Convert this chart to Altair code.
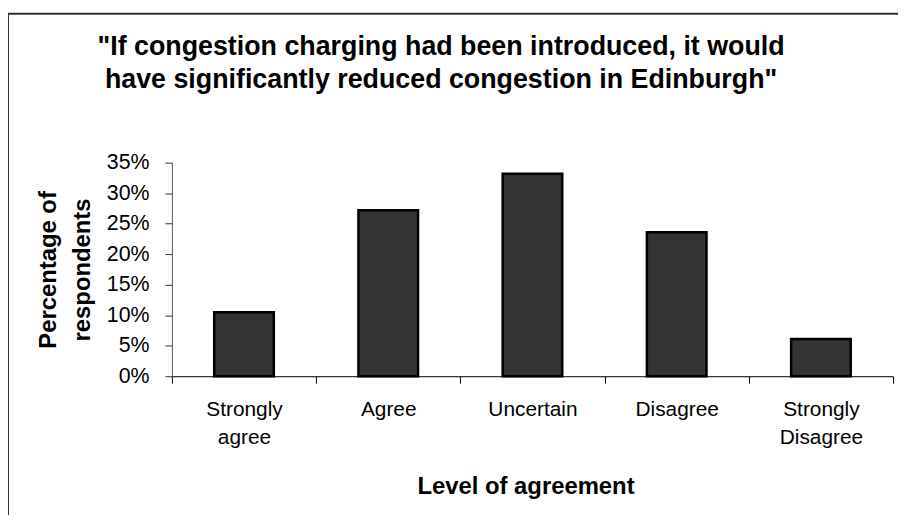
import altair as alt
import pandas as pd

categories = ["Strongly agree", "Agree", "Uncertain", "Disagree", "Strongly Disagree"]
percent = [10.5, 27.2, 33.2, 23.6, 6.1]
y_ticks = [0, 5, 10, 15, 20, 25, 30, 35]

title_lines = ['"If congestion charging had been introduced, it would',
               'have significantly reduced congestion in Edinburgh"']
x_title = "Level of agreement"
y_title = ["Percentage of", "respondents"]

FONT = "Liberation Sans, Arial, Helvetica, sans-serif"

df = pd.DataFrame({"level": categories, "pct": percent})

bars = alt.Chart(df).mark_bar(
    size=60, color="#333333", stroke="#000000", strokeWidth=2.5
).encode(
    x=alt.X(
        "level:N", sort=categories,
        scale=alt.Scale(paddingInner=0, paddingOuter=0),
        axis=alt.Axis(
            title=x_title, tickBand="extent",
            labelExpr="split(datum.label, ' ')",
            labelAngle=0, labelFontSize=21, labelLineHeight=28,
            labelPadding=16, labelColor="#000000",
            titleFontSize=24, titleFontWeight="bold", titleColor="#000000",
            titlePadding=27, titleX=356,
            domainColor="#000000", tickColor="#000000", tickSize=7,
        ),
    ),
    y=alt.Y(
        "pct:Q",
        scale=alt.Scale(domain=[0, 35], nice=False, zero=True),
        axis=alt.Axis(
            values=y_ticks, labelExpr="datum.value + '%'",
            title=y_title, labelFontSize=21.5, labelPadding=16, labelColor="#000000",
            titleFontSize=24, titleFontWeight="bold", titleColor="#000000",
            titleLineHeight=34, titlePadding=12,
            domainColor="#555555", tickColor="#333333", tickSize=7,
            grid=False,
        ),
    ),
)

frame = alt.Chart(alt.Data(values=[{"f": 1}])).mark_rect(
    fill=None, stroke="#333333", strokeWidth=2
).encode(
    x=alt.value(-165), x2=alt.value(2000),
    y=alt.value(-150), y2=alt.value(2000),
)

chart = alt.layer(frame, bars).properties(
    width=726, height=215,
    title=alt.TitleParams(
        text=title_lines, fontSize=27, fontWeight="bold", color="#000000",
        lineHeight=33, anchor="middle", dx=-92, offset=-82, font=FONT,
    ),
    autosize=alt.AutoSizeParams(type="none"),
    padding={"left": 165, "top": 154, "right": 5, "bottom": 138},
).configure(
    font=FONT,
).configure_view(
    stroke=None,
).configure_axis(
    labelFont=FONT, titleFont=FONT, domainWidth=1, tickWidth=1,
)

chart.save("out.html", embed_options={"renderer": "svg", "actions": False})
